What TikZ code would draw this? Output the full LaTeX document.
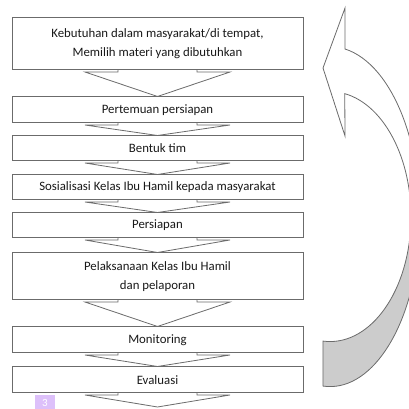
\documentclass[tikz,border=0pt]{standalone}
\usepackage{fontspec}
\setmainfont{Carlito}
\usetikzlibrary{calc,backgrounds}

\definecolor{edgegray}{gray}{0.42}
\definecolor{badgeviolet}{RGB}{221,192,250}

\tikzset{
  stage/.style={draw=edgegray, line width=1pt, fill=white, minimum width=291pt,
    inner sep=0pt, align=center, text=black!90, font=\fontsize{12.8}{19}\selectfont},
  flow/.style={draw=edgegray, line width=0.8pt, fill=white},
  cyclearrow/.style={draw=edgegray, line width=0.8pt, line join=miter},
}

% block arrow from the bottom of one stage to the top of the next
\newcommand{\flowarrow}[2]{%
  \filldraw[flow] let \p1=(#1.south), \p2=(#2) in
    (\x1-39.5pt,\y1+4pt) -- (\x1-39.5pt,\y1-1.5pt) -- (\x1-72.5pt,\y1-1.5pt)
    -- (\x2,\y2) -- (\x1+72.5pt,\y1-1.5pt) -- (\x1+39.5pt,\y1-1.5pt)
    -- (\x1+39.5pt,\y1+4pt) -- cycle;}

\begin{document}
\begin{tikzpicture}[x=1pt, y=1pt]

    \useasboundingbox (0,0) rectangle (409,409);
    \clip (0,0) rectangle (409,409);

    % 1. Tahapan (kotak)
    \node[stage, minimum height=52pt] (b1) at (157.5,365)
        {Kebutuhan dalam masyarakat/di tempat,\\Memilih materi yang dibutuhkan};
    \node[stage, minimum height=26pt] (b2) at (157.5,299) {Pertemuan persiapan};
    \node[stage, minimum height=25pt] (b3) at (157.5,260.5) {Bentuk tim};
    \node[stage, minimum height=25pt] (b4) at (157.5,221.5) {Sosialisasi Kelas Ibu Hamil kepada masyarakat};
    \node[stage, minimum height=25pt] (b5) at (157.5,183.5) {Persiapan};
    \node[stage, minimum height=47pt] (b6) at (157.5,132.5)
        {Pelaksanaan Kelas Ibu Hamil\\dan pelaporan};
    \node[stage, minimum height=26pt] (b7) at (157.5,69) {Monitoring};
    \node[stage, minimum height=26pt] (b8) at (157.5,29) {Evaluasi};
    \coordinate (end) at (157.5,2);

    % 2. Panah antar tahapan
    \begin{scope}[on background layer]
        \flowarrow{b1}{b2.north}
        \flowarrow{b2}{b3.north}
        \flowarrow{b3}{b4.north}
        \flowarrow{b4}{b5.north}
        \flowarrow{b5}{b6.north}
        \flowarrow{b6}{b7.north}
        \flowarrow{b7}{b8.north}
        \flowarrow{b8}{end}
    \end{scope}

    % 3. Panah melengkung (siklus)
    \def\bendpath{(345,360) arc[start angle=80.4, end angle=-94.5, x radius=90, y radius=170]
        -- ++(0,45) arc[start angle=-95, end angle=79.5, x radius=81, y radius=125]
        -- (345,273) -- (323,341) -- (345,401) -- cycle}
    \fill[white] \bendpath;
    \begin{scope}
        \clip (0,0) rectangle (409,164);
        \fill[gray!40] \bendpath;
    \end{scope}
    \draw[cyclearrow] \bendpath;

    % 4. Nomor halaman
    \fill[badgeviolet] (35,0) rectangle (55,14);
    \node[text=white, inner sep=0pt, font=\fontsize{11}{11}\selectfont] (pg) at (45,6) {3};

\end{tikzpicture}
\end{document}
